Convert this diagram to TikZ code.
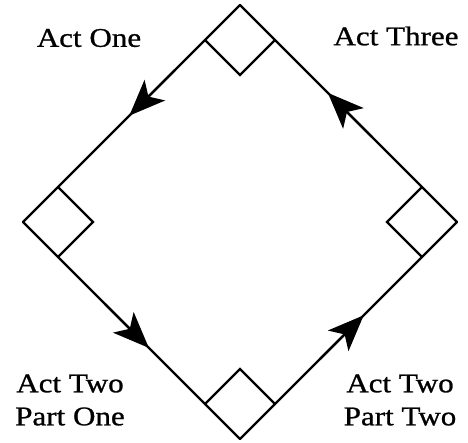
\documentclass[tikz,border=0pt]{standalone}
\usepackage{fontspec}
\newfontfamily\labfont[FakeStretch=1.15,FakeBold=0.9]{Liberation Serif}
\usetikzlibrary{arrows.meta}
\tikzset{
  edge/.style={line width=2.3pt,line cap=round,line join=miter},
  base/.style={line width=2.3pt,line join=miter},
  head/.style={line width=2.3pt,-{Stealth[length=36pt,width=29pt,inset=9pt]}},
  lab/.style={font=\labfont\fontsize{27}{33}\selectfont,align=center,inner sep=0pt}
}
\begin{document}
\begin{tikzpicture}[x=1pt,y=-1pt]
\useasboundingbox (0,0) rectangle (468,442);
% big diamond corners
\coordinate (T) at (240,5);
\coordinate (L) at (23,222);
\coordinate (B) at (240,439);
\coordinate (R) at (457,222);
% square corners
\coordinate (Tl) at (205,40); \coordinate (Tb) at (240,75); \coordinate (Tr) at (275,40);
\coordinate (Lt) at (58,187); \coordinate (Lr) at (93,222); \coordinate (Lb) at (58,257);
\coordinate (Bl) at (205,404); \coordinate (Bt) at (240,369); \coordinate (Br) at (275,404);
\coordinate (Rt) at (422,187); \coordinate (Rl) at (387,222); \coordinate (Rb) at (422,257);
% edges
\draw[edge] (T) -- (L);
\draw[edge] (L) -- (B);
\draw[edge] (B) -- (R);
\draw[edge] (R) -- (T);
% arrow positions
\path (T) -- (L) coordinate[pos=0.30] (a1s) coordinate[pos=0.51] (a1e);
\path (L) -- (B) coordinate[pos=0.38] (a2s) coordinate[pos=0.58] (a2e);
\path (B) -- (R) coordinate[pos=0.37] (a3s) coordinate[pos=0.57] (a3e);
\path (R) -- (T) coordinate[pos=0.39] (a4s) coordinate[pos=0.595] (a4e);
\draw[head] (a1s) -- (a1e);
\draw[head] (a2s) -- (a2e);
\draw[head] (a3s) -- (a3e);
\draw[head] (a4s) -- (a4e);
% small squares
\draw[base] (Tl) -- (Tb) -- (Tr);
\draw[base] (Lt) -- (Lr) -- (Lb);
\draw[base] (Bl) -- (Bt) -- (Br);
\draw[base] (Rt) -- (Rl) -- (Rb);
% labels
\node[lab] (one) at (89,38) {Act One};
\node[lab] (three) at (396,36) {Act Three};
\node[lab] (twoa) at (70,400) {Act Two\\Part One};
\node[lab] (twob) at (400,400) {Act Two\\Part Two};
\end{tikzpicture}
\end{document}
